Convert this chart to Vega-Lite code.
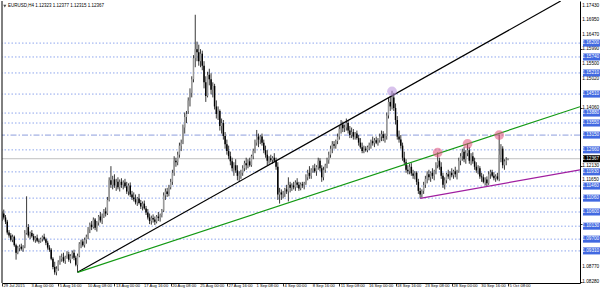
{
"$schema":"https://vega.github.io/schema/vega-lite/v6.json",
"width":578,"height":282,
"autosize":{"type":"none"},
"padding":{"left":2,"top":1,"right":20,"bottom":9},
"background":"#ffffff",
"config":{"view":{"stroke":null},"axis":{"grid":false,"labels":false},"text":{"font":"Liberation Sans"}},
"datasets":{
"bars":[
{"i":0,"o":1.1040,"h":1.1062,"l":1.1030,"c":1.1055},
{"i":1,"o":1.1055,"h":1.1068,"l":1.1035,"c":1.1042},
{"i":2,"o":1.1042,"h":1.1050,"l":1.1020,"c":1.1028},
{"i":3,"o":1.1028,"h":1.1034,"l":1.0985,"c":1.0992},
{"i":4,"o":1.0992,"h":1.1000,"l":1.0975,"c":1.0982},
{"i":5,"o":1.0982,"h":1.0990,"l":1.0962,"c":1.0968},
{"i":6,"o":1.0968,"h":1.0985,"l":1.0960,"c":1.0978},
{"i":7,"o":1.0978,"h":1.0982,"l":1.0945,"c":1.0950},
{"i":8,"o":1.0950,"h":1.0955,"l":1.0902,"c":1.0925},
{"i":9,"o":1.0925,"h":1.0948,"l":1.0920,"c":1.0940},
{"i":10,"o":1.0940,"h":1.0952,"l":1.0930,"c":1.0945},
{"i":11,"o":1.0945,"h":1.0955,"l":1.0932,"c":1.0938},
{"i":12,"o":1.0938,"h":1.0950,"l":1.0928,"c":1.0946},
{"i":13,"o":1.0946,"h":1.1000,"l":1.0940,"c":1.0990},
{"i":14,"o":1.0990,"h":1.1112,"l":1.0985,"c":1.1010},
{"i":15,"o":1.1010,"h":1.1020,"l":1.0975,"c":1.0982},
{"i":16,"o":1.0982,"h":1.0995,"l":1.0970,"c":1.0990},
{"i":17,"o":1.0990,"h":1.1000,"l":1.0975,"c":1.0980},
{"i":18,"o":1.0980,"h":1.0988,"l":1.0962,"c":1.0968},
{"i":19,"o":1.0968,"h":1.0980,"l":1.0958,"c":1.0975},
{"i":20,"o":1.0975,"h":1.0985,"l":1.0960,"c":1.0965},
{"i":21,"o":1.0965,"h":1.0972,"l":1.0955,"c":1.0962},
{"i":22,"o":1.0962,"h":1.0975,"l":1.0958,"c":1.0970},
{"i":23,"o":1.0970,"h":1.0982,"l":1.0962,"c":1.0978},
{"i":24,"o":1.0978,"h":1.0988,"l":1.0965,"c":1.0970},
{"i":25,"o":1.0970,"h":1.0975,"l":1.0950,"c":1.0958},
{"i":26,"o":1.0958,"h":1.0965,"l":1.0935,"c":1.0942},
{"i":27,"o":1.0942,"h":1.0950,"l":1.0928,"c":1.0935},
{"i":28,"o":1.0935,"h":1.0940,"l":1.0900,"c":1.0905},
{"i":29,"o":1.0905,"h":1.0910,"l":1.0870,"c":1.0878},
{"i":30,"o":1.0878,"h":1.0895,"l":1.0852,"c":1.0860},
{"i":31,"o":1.0860,"h":1.0880,"l":1.0850,"c":1.0872},
{"i":32,"o":1.0872,"h":1.0900,"l":1.0865,"c":1.0895},
{"i":33,"o":1.0895,"h":1.0915,"l":1.0885,"c":1.0905},
{"i":34,"o":1.0905,"h":1.0922,"l":1.0895,"c":1.0910},
{"i":35,"o":1.0910,"h":1.0925,"l":1.0892,"c":1.0898},
{"i":36,"o":1.0898,"h":1.0915,"l":1.0888,"c":1.0912},
{"i":37,"o":1.0912,"h":1.0930,"l":1.0905,"c":1.0920},
{"i":38,"o":1.0920,"h":1.0928,"l":1.0895,"c":1.0902},
{"i":39,"o":1.0902,"h":1.0920,"l":1.0890,"c":1.0915},
{"i":40,"o":1.0915,"h":1.0932,"l":1.0905,"c":1.0925},
{"i":41,"o":1.0925,"h":1.0935,"l":1.0900,"c":1.0908},
{"i":42,"o":1.0908,"h":1.0915,"l":1.0880,"c":1.0885},
{"i":43,"o":1.0885,"h":1.0922,"l":1.0860,"c":1.0915},
{"i":44,"o":1.0915,"h":1.0960,"l":1.0910,"c":1.0955},
{"i":45,"o":1.0955,"h":1.0968,"l":1.0940,"c":1.0962},
{"i":46,"o":1.0962,"h":1.0970,"l":1.0945,"c":1.0950},
{"i":47,"o":1.0950,"h":1.0975,"l":1.0942,"c":1.0968},
{"i":48,"o":1.0968,"h":1.0985,"l":1.0955,"c":1.0978},
{"i":49,"o":1.0978,"h":1.1010,"l":1.0970,"c":1.1002},
{"i":50,"o":1.1002,"h":1.1025,"l":1.0990,"c":1.1018},
{"i":51,"o":1.1018,"h":1.1030,"l":1.1000,"c":1.1010},
{"i":52,"o":1.1010,"h":1.1042,"l":1.1005,"c":1.1035},
{"i":53,"o":1.1035,"h":1.1040,"l":1.1000,"c":1.1008},
{"i":54,"o":1.1008,"h":1.1030,"l":1.0995,"c":1.1025},
{"i":55,"o":1.1025,"h":1.1050,"l":1.1015,"c":1.1045},
{"i":56,"o":1.1045,"h":1.1060,"l":1.1025,"c":1.1032},
{"i":57,"o":1.1032,"h":1.1055,"l":1.1020,"c":1.1048},
{"i":58,"o":1.1048,"h":1.1070,"l":1.1040,"c":1.1062},
{"i":59,"o":1.1062,"h":1.1075,"l":1.1045,"c":1.1055},
{"i":60,"o":1.1055,"h":1.1110,"l":1.1050,"c":1.1100},
{"i":61,"o":1.1100,"h":1.1175,"l":1.1095,"c":1.1165},
{"i":62,"o":1.1165,"h":1.1212,"l":1.1140,"c":1.1150},
{"i":63,"o":1.1150,"h":1.1180,"l":1.1135,"c":1.1168},
{"i":64,"o":1.1168,"h":1.1185,"l":1.1140,"c":1.1148},
{"i":65,"o":1.1148,"h":1.1170,"l":1.1130,"c":1.1160},
{"i":66,"o":1.1160,"h":1.1175,"l":1.1135,"c":1.1142},
{"i":67,"o":1.1142,"h":1.1168,"l":1.1128,"c":1.1160},
{"i":68,"o":1.1160,"h":1.1172,"l":1.1140,"c":1.1150},
{"i":69,"o":1.1150,"h":1.1165,"l":1.1135,"c":1.1158},
{"i":70,"o":1.1158,"h":1.1170,"l":1.1140,"c":1.1145},
{"i":71,"o":1.1145,"h":1.1160,"l":1.1120,"c":1.1128},
{"i":72,"o":1.1128,"h":1.1155,"l":1.1115,"c":1.1148},
{"i":73,"o":1.1148,"h":1.1158,"l":1.1110,"c":1.1118},
{"i":74,"o":1.1118,"h":1.1130,"l":1.1100,"c":1.1108},
{"i":75,"o":1.1108,"h":1.1125,"l":1.1095,"c":1.1102},
{"i":76,"o":1.1102,"h":1.1118,"l":1.1085,"c":1.1092},
{"i":77,"o":1.1092,"h":1.1110,"l":1.1080,"c":1.1105},
{"i":78,"o":1.1105,"h":1.1120,"l":1.1085,"c":1.1090},
{"i":79,"o":1.1090,"h":1.1100,"l":1.1070,"c":1.1078},
{"i":80,"o":1.1078,"h":1.1095,"l":1.1065,"c":1.1088},
{"i":81,"o":1.1088,"h":1.1098,"l":1.1068,"c":1.1072},
{"i":82,"o":1.1072,"h":1.1080,"l":1.1050,"c":1.1058},
{"i":83,"o":1.1058,"h":1.1070,"l":1.1035,"c":1.1042},
{"i":84,"o":1.1042,"h":1.1055,"l":1.1020,"c":1.1030},
{"i":85,"o":1.1030,"h":1.1048,"l":1.1018,"c":1.1040},
{"i":86,"o":1.1040,"h":1.1052,"l":1.1025,"c":1.1035},
{"i":87,"o":1.1035,"h":1.1045,"l":1.1017,"c":1.1028},
{"i":88,"o":1.1028,"h":1.1050,"l":1.1022,"c":1.1045},
{"i":89,"o":1.1045,"h":1.1060,"l":1.1030,"c":1.1040},
{"i":90,"o":1.1040,"h":1.1055,"l":1.1028,"c":1.1050},
{"i":91,"o":1.1050,"h":1.1070,"l":1.1042,"c":1.1065},
{"i":92,"o":1.1065,"h":1.1125,"l":1.1060,"c":1.1115},
{"i":93,"o":1.1115,"h":1.1138,"l":1.1100,"c":1.1128},
{"i":94,"o":1.1128,"h":1.1140,"l":1.1110,"c":1.1120},
{"i":95,"o":1.1120,"h":1.1150,"l":1.1112,"c":1.1142},
{"i":96,"o":1.1142,"h":1.1170,"l":1.1135,"c":1.1160},
{"i":97,"o":1.1160,"h":1.1200,"l":1.1150,"c":1.1190},
{"i":98,"o":1.1190,"h":1.1245,"l":1.1180,"c":1.1230},
{"i":99,"o":1.1230,"h":1.1240,"l":1.1210,"c":1.1225},
{"i":100,"o":1.1225,"h":1.1260,"l":1.1215,"c":1.1250},
{"i":101,"o":1.1250,"h":1.1290,"l":1.1240,"c":1.1280},
{"i":102,"o":1.1280,"h":1.1300,"l":1.1262,"c":1.1290},
{"i":103,"o":1.1290,"h":1.1350,"l":1.1285,"c":1.1340},
{"i":104,"o":1.1340,"h":1.1390,"l":1.1320,"c":1.1375},
{"i":105,"o":1.1375,"h":1.1395,"l":1.1355,"c":1.1385},
{"i":106,"o":1.1395,"h":1.1440,"l":1.1385,"c":1.1430},
{"i":107,"o":1.1430,"h":1.1470,"l":1.1410,"c":1.1455},
{"i":108,"o":1.1455,"h":1.1510,"l":1.1440,"c":1.1500},
{"i":109,"o":1.1500,"h":1.1580,"l":1.1490,"c":1.1570},
{"i":110,"o":1.1570,"h":1.1714,"l":1.1540,"c":1.1600},
{"i":111,"o":1.1600,"h":1.1625,"l":1.1560,"c":1.1590},
{"i":112,"o":1.1590,"h":1.1615,"l":1.1545,"c":1.1560},
{"i":113,"o":1.1560,"h":1.1600,"l":1.1540,"c":1.1585},
{"i":114,"o":1.1585,"h":1.1595,"l":1.1530,"c":1.1545},
{"i":115,"o":1.1545,"h":1.1560,"l":1.1470,"c":1.1490},
{"i":116,"o":1.1490,"h":1.1510,"l":1.1425,"c":1.1445},
{"i":117,"o":1.1445,"h":1.1525,"l":1.1440,"c":1.1515},
{"i":118,"o":1.1515,"h":1.1535,"l":1.1480,"c":1.1500},
{"i":119,"o":1.1500,"h":1.1520,"l":1.1450,"c":1.1465},
{"i":120,"o":1.1465,"h":1.1490,"l":1.1440,"c":1.1478},
{"i":121,"o":1.1478,"h":1.1485,"l":1.1400,"c":1.1410},
{"i":122,"o":1.1410,"h":1.1430,"l":1.1370,"c":1.1385},
{"i":123,"o":1.1385,"h":1.1410,"l":1.1365,"c":1.1395},
{"i":124,"o":1.1395,"h":1.1400,"l":1.1330,"c":1.1345},
{"i":125,"o":1.1345,"h":1.1370,"l":1.1320,"c":1.1355},
{"i":126,"o":1.1355,"h":1.1365,"l":1.1300,"c":1.1312},
{"i":127,"o":1.1312,"h":1.1325,"l":1.1270,"c":1.1285},
{"i":128,"o":1.1285,"h":1.1300,"l":1.1250,"c":1.1262},
{"i":129,"o":1.1262,"h":1.1280,"l":1.1235,"c":1.1245},
{"i":130,"o":1.1245,"h":1.1260,"l":1.1215,"c":1.1228},
{"i":131,"o":1.1228,"h":1.1240,"l":1.1195,"c":1.1205},
{"i":132,"o":1.1205,"h":1.1225,"l":1.1180,"c":1.1215},
{"i":133,"o":1.1215,"h":1.1235,"l":1.1190,"c":1.1198},
{"i":134,"o":1.1198,"h":1.1215,"l":1.1165,"c":1.1180},
{"i":135,"o":1.1180,"h":1.1195,"l":1.1160,"c":1.1185},
{"i":136,"o":1.1185,"h":1.1200,"l":1.1170,"c":1.1190},
{"i":137,"o":1.1190,"h":1.1215,"l":1.1180,"c":1.1205},
{"i":138,"o":1.1205,"h":1.1230,"l":1.1195,"c":1.1222},
{"i":139,"o":1.1222,"h":1.1240,"l":1.1200,"c":1.1215},
{"i":140,"o":1.1215,"h":1.1235,"l":1.1205,"c":1.1228},
{"i":141,"o":1.1228,"h":1.1240,"l":1.1210,"c":1.1215},
{"i":142,"o":1.1215,"h":1.1250,"l":1.1210,"c":1.1245},
{"i":143,"o":1.1245,"h":1.1270,"l":1.1235,"c":1.1262},
{"i":144,"o":1.1262,"h":1.1300,"l":1.1255,"c":1.1290},
{"i":145,"o":1.1290,"h":1.1332,"l":1.1280,"c":1.1310},
{"i":146,"o":1.1310,"h":1.1320,"l":1.1275,"c":1.1300},
{"i":147,"o":1.1300,"h":1.1315,"l":1.1285,"c":1.1310},
{"i":148,"o":1.1310,"h":1.1320,"l":1.1280,"c":1.1290},
{"i":149,"o":1.1290,"h":1.1300,"l":1.1255,"c":1.1265},
{"i":150,"o":1.1265,"h":1.1280,"l":1.1240,"c":1.1250},
{"i":151,"o":1.1250,"h":1.1265,"l":1.1215,"c":1.1230},
{"i":152,"o":1.1230,"h":1.1245,"l":1.1220,"c":1.1238},
{"i":153,"o":1.1238,"h":1.1250,"l":1.1225,"c":1.1232},
{"i":154,"o":1.1232,"h":1.1245,"l":1.1220,"c":1.1240},
{"i":155,"o":1.1240,"h":1.1255,"l":1.1225,"c":1.1230},
{"i":156,"o":1.1230,"h":1.1240,"l":1.1200,"c":1.1210},
{"i":157,"o":1.1210,"h":1.1225,"l":1.1100,"c":1.1118},
{"i":158,"o":1.1118,"h":1.1140,"l":1.1088,"c":1.1125},
{"i":159,"o":1.1125,"h":1.1135,"l":1.1100,"c":1.1118},
{"i":160,"o":1.1118,"h":1.1130,"l":1.1105,"c":1.1122},
{"i":161,"o":1.1122,"h":1.1140,"l":1.1110,"c":1.1135},
{"i":162,"o":1.1135,"h":1.1150,"l":1.1120,"c":1.1128},
{"i":163,"o":1.1128,"h":1.1175,"l":1.1095,"c":1.1150},
{"i":164,"o":1.1150,"h":1.1160,"l":1.1125,"c":1.1140},
{"i":165,"o":1.1140,"h":1.1155,"l":1.1130,"c":1.1148},
{"i":166,"o":1.1148,"h":1.1160,"l":1.1135,"c":1.1142},
{"i":167,"o":1.1142,"h":1.1165,"l":1.1130,"c":1.1158},
{"i":168,"o":1.1158,"h":1.1172,"l":1.1140,"c":1.1150},
{"i":169,"o":1.1150,"h":1.1160,"l":1.1130,"c":1.1138},
{"i":170,"o":1.1138,"h":1.1158,"l":1.1132,"c":1.1152},
{"i":171,"o":1.1152,"h":1.1160,"l":1.1140,"c":1.1148},
{"i":172,"o":1.1148,"h":1.1160,"l":1.1135,"c":1.1155},
{"i":173,"o":1.1155,"h":1.1185,"l":1.1150,"c":1.1175},
{"i":174,"o":1.1175,"h":1.1200,"l":1.1165,"c":1.1190},
{"i":175,"o":1.1190,"h":1.1212,"l":1.1170,"c":1.1180},
{"i":176,"o":1.1180,"h":1.1205,"l":1.1170,"c":1.1200},
{"i":177,"o":1.1200,"h":1.1215,"l":1.1190,"c":1.1205},
{"i":178,"o":1.1205,"h":1.1220,"l":1.1190,"c":1.1195},
{"i":179,"o":1.1195,"h":1.1215,"l":1.1180,"c":1.1210},
{"i":180,"o":1.1210,"h":1.1240,"l":1.1200,"c":1.1230},
{"i":181,"o":1.1230,"h":1.1238,"l":1.1195,"c":1.1205},
{"i":182,"o":1.1205,"h":1.1215,"l":1.1160,"c":1.1175},
{"i":183,"o":1.1175,"h":1.1210,"l":1.1165,"c":1.1200},
{"i":184,"o":1.1200,"h":1.1220,"l":1.1190,"c":1.1215},
{"i":185,"o":1.1215,"h":1.1240,"l":1.1205,"c":1.1232},
{"i":186,"o":1.1232,"h":1.1260,"l":1.1220,"c":1.1250},
{"i":187,"o":1.1250,"h":1.1280,"l":1.1240,"c":1.1270},
{"i":188,"o":1.1270,"h":1.1295,"l":1.1255,"c":1.1285},
{"i":189,"o":1.1285,"h":1.1295,"l":1.1270,"c":1.1280},
{"i":190,"o":1.1280,"h":1.1300,"l":1.1270,"c":1.1295},
{"i":191,"o":1.1295,"h":1.1320,"l":1.1285,"c":1.1310},
{"i":192,"o":1.1310,"h":1.1345,"l":1.1300,"c":1.1335},
{"i":193,"o":1.1335,"h":1.1365,"l":1.1320,"c":1.1350},
{"i":194,"o":1.1350,"h":1.1360,"l":1.1325,"c":1.1338},
{"i":195,"o":1.1338,"h":1.1350,"l":1.1325,"c":1.1340},
{"i":196,"o":1.1340,"h":1.1370,"l":1.1330,"c":1.1355},
{"i":197,"o":1.1355,"h":1.1365,"l":1.1320,"c":1.1330},
{"i":198,"o":1.1330,"h":1.1345,"l":1.1305,"c":1.1315},
{"i":199,"o":1.1315,"h":1.1340,"l":1.1305,"c":1.1325},
{"i":200,"o":1.1325,"h":1.1335,"l":1.1300,"c":1.1310},
{"i":201,"o":1.1310,"h":1.1325,"l":1.1300,"c":1.1320},
{"i":202,"o":1.1320,"h":1.1330,"l":1.1300,"c":1.1305},
{"i":203,"o":1.1305,"h":1.1315,"l":1.1280,"c":1.1290},
{"i":204,"o":1.1290,"h":1.1305,"l":1.1270,"c":1.1275},
{"i":205,"o":1.1275,"h":1.1290,"l":1.1255,"c":1.1262},
{"i":206,"o":1.1262,"h":1.1280,"l":1.1255,"c":1.1270},
{"i":207,"o":1.1270,"h":1.1278,"l":1.1260,"c":1.1265},
{"i":208,"o":1.1265,"h":1.1280,"l":1.1258,"c":1.1275},
{"i":209,"o":1.1275,"h":1.1290,"l":1.1265,"c":1.1282},
{"i":210,"o":1.1282,"h":1.1300,"l":1.1270,"c":1.1295},
{"i":211,"o":1.1295,"h":1.1310,"l":1.1280,"c":1.1288},
{"i":212,"o":1.1288,"h":1.1305,"l":1.1275,"c":1.1298},
{"i":213,"o":1.1298,"h":1.1310,"l":1.1285,"c":1.1290},
{"i":214,"o":1.1290,"h":1.1305,"l":1.1280,"c":1.1298},
{"i":215,"o":1.1298,"h":1.1320,"l":1.1290,"c":1.1310},
{"i":216,"o":1.1310,"h":1.1330,"l":1.1295,"c":1.1318},
{"i":217,"o":1.1318,"h":1.1328,"l":1.1295,"c":1.1305},
{"i":218,"o":1.1305,"h":1.1320,"l":1.1290,"c":1.1312},
{"i":219,"o":1.1312,"h":1.1390,"l":1.1300,"c":1.1380},
{"i":220,"o":1.1380,"h":1.1440,"l":1.1370,"c":1.1425},
{"i":221,"o":1.1425,"h":1.1445,"l":1.1395,"c":1.1410},
{"i":222,"o":1.1410,"h":1.1462,"l":1.1400,"c":1.1440},
{"i":223,"o":1.1440,"h":1.1455,"l":1.1395,"c":1.1405},
{"i":224,"o":1.1405,"h":1.1420,"l":1.1350,"c":1.1365},
{"i":225,"o":1.1365,"h":1.1378,"l":1.1300,"c":1.1310},
{"i":226,"o":1.1310,"h":1.1330,"l":1.1290,"c":1.1300},
{"i":227,"o":1.1300,"h":1.1315,"l":1.1270,"c":1.1280},
{"i":228,"o":1.1280,"h":1.1290,"l":1.1230,"c":1.1240},
{"i":229,"o":1.1240,"h":1.1260,"l":1.1215,"c":1.1225},
{"i":230,"o":1.1225,"h":1.1235,"l":1.1190,"c":1.1200},
{"i":231,"o":1.1200,"h":1.1215,"l":1.1185,"c":1.1195},
{"i":232,"o":1.1195,"h":1.1220,"l":1.1185,"c":1.1210},
{"i":233,"o":1.1210,"h":1.1222,"l":1.1180,"c":1.1188},
{"i":234,"o":1.1188,"h":1.1200,"l":1.1170,"c":1.1180},
{"i":235,"o":1.1180,"h":1.1195,"l":1.1168,"c":1.1190},
{"i":236,"o":1.1190,"h":1.1195,"l":1.1150,"c":1.1160},
{"i":237,"o":1.1160,"h":1.1170,"l":1.1120,"c":1.1130},
{"i":238,"o":1.1130,"h":1.1140,"l":1.1105,"c":1.1118},
{"i":239,"o":1.1118,"h":1.1135,"l":1.1108,"c":1.1130},
{"i":240,"o":1.1130,"h":1.1160,"l":1.1120,"c":1.1150},
{"i":241,"o":1.1150,"h":1.1180,"l":1.1140,"c":1.1170},
{"i":242,"o":1.1170,"h":1.1195,"l":1.1155,"c":1.1185},
{"i":243,"o":1.1185,"h":1.1200,"l":1.1165,"c":1.1175},
{"i":244,"o":1.1175,"h":1.1195,"l":1.1160,"c":1.1190},
{"i":245,"o":1.1190,"h":1.1205,"l":1.1170,"c":1.1180},
{"i":246,"o":1.1180,"h":1.1200,"l":1.1165,"c":1.1195},
{"i":247,"o":1.1195,"h":1.1225,"l":1.1185,"c":1.1215},
{"i":248,"o":1.1215,"h":1.1258,"l":1.1205,"c":1.1230},
{"i":249,"o":1.1230,"h":1.1240,"l":1.1200,"c":1.1210},
{"i":250,"o":1.1210,"h":1.1225,"l":1.1170,"c":1.1180},
{"i":251,"o":1.1180,"h":1.1190,"l":1.1140,"c":1.1150},
{"i":252,"o":1.1150,"h":1.1175,"l":1.1135,"c":1.1165},
{"i":253,"o":1.1165,"h":1.1190,"l":1.1155,"c":1.1185},
{"i":254,"o":1.1185,"h":1.1200,"l":1.1170,"c":1.1178},
{"i":255,"o":1.1178,"h":1.1195,"l":1.1165,"c":1.1190},
{"i":256,"o":1.1190,"h":1.1205,"l":1.1175,"c":1.1182},
{"i":257,"o":1.1182,"h":1.1200,"l":1.1170,"c":1.1195},
{"i":258,"o":1.1195,"h":1.1210,"l":1.1175,"c":1.1185},
{"i":259,"o":1.1185,"h":1.1200,"l":1.1168,"c":1.1195},
{"i":260,"o":1.1195,"h":1.1240,"l":1.1190,"c":1.1230},
{"i":261,"o":1.1230,"h":1.1255,"l":1.1215,"c":1.1245},
{"i":262,"o":1.1245,"h":1.1270,"l":1.1230,"c":1.1260},
{"i":263,"o":1.1260,"h":1.1275,"l":1.1225,"c":1.1235},
{"i":264,"o":1.1235,"h":1.1265,"l":1.1220,"c":1.1255},
{"i":265,"o":1.1255,"h":1.1287,"l":1.1245,"c":1.1265},
{"i":266,"o":1.1265,"h":1.1275,"l":1.1220,"c":1.1230},
{"i":267,"o":1.1230,"h":1.1255,"l":1.1215,"c":1.1245},
{"i":268,"o":1.1245,"h":1.1258,"l":1.1220,"c":1.1228},
{"i":269,"o":1.1228,"h":1.1240,"l":1.1200,"c":1.1210},
{"i":270,"o":1.1210,"h":1.1225,"l":1.1190,"c":1.1198},
{"i":271,"o":1.1198,"h":1.1215,"l":1.1185,"c":1.1205},
{"i":272,"o":1.1205,"h":1.1212,"l":1.1170,"c":1.1178},
{"i":273,"o":1.1178,"h":1.1190,"l":1.1160,"c":1.1175},
{"i":274,"o":1.1175,"h":1.1185,"l":1.1155,"c":1.1160},
{"i":275,"o":1.1160,"h":1.1175,"l":1.1148,"c":1.1168},
{"i":276,"o":1.1168,"h":1.1178,"l":1.1145,"c":1.1155},
{"i":277,"o":1.1155,"h":1.1195,"l":1.1150,"c":1.1185},
{"i":278,"o":1.1185,"h":1.1200,"l":1.1170,"c":1.1192},
{"i":279,"o":1.1192,"h":1.1200,"l":1.1175,"c":1.1180},
{"i":280,"o":1.1180,"h":1.1192,"l":1.1165,"c":1.1172},
{"i":281,"o":1.1172,"h":1.1185,"l":1.1160,"c":1.1178},
{"i":282,"o":1.1178,"h":1.1190,"l":1.1165,"c":1.1170},
{"i":283,"o":1.1170,"h":1.1317,"l":1.1162,"c":1.1250},
{"i":284,"o":1.1250,"h":1.1285,"l":1.1225,"c":1.1270},
{"i":285,"o":1.1270,"h":1.1278,"l":1.1205,"c":1.1215},
{"i":286,"o":1.1215,"h":1.1235,"l":1.1200,"c":1.1228},
{"i":287,"o":1.1228,"h":1.1242,"l":1.1215,"c":1.1232},
{"i":288,"o":1.12323,"h":1.12377,"l":1.12315,"c":1.12367}
],
"levels":[
{"p":1.16200,"k":"lvl"},{"p":1.15740,"k":"lvl"},{"p":1.15210,"k":"lvl"},{"p":1.14510,"k":"lvl"},
{"p":1.13880,"k":"lvl"},{"p":1.13550,"k":"lvl"},{"p":1.13150,"k":"dd"},{"p":1.12660,"k":"lvl"},
{"p":1.12367,"k":"cur"},{"p":1.11930,"k":"lvl"},{"p":1.11460,"k":"lvl"},{"p":1.11060,"k":"lvl"},
{"p":1.10600,"k":"lvl"},{"p":1.10130,"k":"lvl"},{"p":1.09700,"k":"lvl"},{"p":1.09310,"k":"lvl"}
],
"trend":[
{"n":"black","i":43,"p":1.0860},{"n":"black","i":318,"p":1.17596},
{"n":"green","i":43,"p":1.0860},{"n":"green","i":329,"p":1.1409},
{"n":"purple","i":238,"p":1.1105},{"n":"purple","i":329,"p":1.1200}
],
"marks":[
{"i":222,"p":1.1460,"k":"v"},{"i":248,"p":1.1257,"k":"p"},{"i":265,"p":1.1286,"k":"p"},{"i":283,"p":1.1315,"k":"p"}
],
"xlabels":[
{"i":0,"t":"29 Jul 2015"},{"i":16,"t":"3 Aug 00:00"},{"i":32,"t":"5 Aug 16:00"},{"i":48,"t":"10 Aug 08:00"},
{"i":64,"t":"13 Aug 00:00"},{"i":80,"t":"17 Aug 16:00"},{"i":96,"t":"20 Aug 08:00"},{"i":112,"t":"25 Aug 00:00"},
{"i":128,"t":"27 Aug 16:00"},{"i":144,"t":"1 Sep 08:00"},{"i":160,"t":"4 Sep 00:00"},{"i":176,"t":"8 Sep 16:00"},
{"i":192,"t":"11 Sep 08:00"},{"i":208,"t":"16 Sep 00:00"},{"i":224,"t":"18 Sep 16:00"},{"i":240,"t":"23 Sep 08:00"},
{"i":256,"t":"28 Sep 00:00"},{"i":272,"t":"30 Sep 16:00"},{"i":288,"t":"5 Oct 08:00"}
],
"ylabels":[
{"p":1.0828},{"p":1.0877},{"p":1.1165},{"p":1.1213},
{"p":1.1406},{"p":1.1502},{"p":1.1550},{"p":1.1599},{"p":1.1647},{"p":1.1695},{"p":1.1743}
],
"one":[{"z":0}]
},
"layer":[
{"data":{"name":"levels"},"transform":[{"filter":"datum.k=='lvl'"}],
 "mark":{"type":"rule","color":"#4169e1","strokeWidth":0.8,"strokeDash":[1.5,2],"opacity":0.75},
 "encoding":{"y":{"field":"p","type":"quantitative","title":null,"scale":{"domain":[1.08246,1.17596],"nice":false,"zero":false},
   "axis":{"title":null,"orient":"right","values":[1.0828,1.0877,1.0924,1.0972,1.1021,1.1069,1.1117,1.1165,1.1213,1.1261,1.131,1.1358,1.1406,1.1454,1.1502,1.155,1.1599,1.1647,1.1695,1.1743],
    "labels":false,"tickSize":2,"tickColor":"#000000","tickWidth":0.8,"domainColor":"#000000","domainWidth":1}}}},
{"data":{"name":"levels"},"transform":[{"filter":"datum.k=='dd'"}],
 "mark":{"type":"rule","color":"#6f84d6","strokeWidth":0.8,"strokeDash":[6,2,1.5,2]},
 "encoding":{"y":{"field":"p","type":"quantitative","title":null}}},
{"data":{"name":"levels"},"transform":[{"filter":"datum.k=='cur'"}],
 "mark":{"type":"rule","color":"#c0c0c0","strokeWidth":1},
 "encoding":{"y":{"field":"p","type":"quantitative","title":null}}},
{"data":{"name":"bars"},
 "mark":{"type":"rule","color":"#222222","strokeWidth":0.9,"clip":true},
 "encoding":{
  "x":{"field":"i","type":"quantitative","title":null,"scale":{"domain":[0,329],"nice":false,"zero":false},
   "axis":{"title":null,"orient":"bottom","values":[0,16,32,48,64,80,96,112,128,144,160,176,192,208,224,240,256,272,288],
    "labels":false,"tickSize":3,"tickColor":"#000000","tickWidth":0.8,"domainColor":"#000000","domainWidth":1}},
  "y":{"field":"l","type":"quantitative","title":null},
  "y2":{"field":"h"}}},
{"data":{"name":"bars"},
 "mark":{"type":"rule","strokeWidth":1.5,"clip":true},
 "encoding":{
  "x":{"field":"i","type":"quantitative","title":null},
  "y":{"field":"o","type":"quantitative","title":null},
  "y2":{"field":"c"},
  "color":{"condition":{"test":"datum.c >= datum.o","value":"#9a9a9a"},"value":"#000000"}}},
{"data":{"name":"trend"},
 "mark":{"type":"line","strokeWidth":1.2,"clip":true},
 "encoding":{
  "x":{"field":"i","type":"quantitative","title":null},
  "y":{"field":"p","type":"quantitative","title":null},
  "detail":{"field":"n","type":"nominal"},
  "color":{"condition":[{"test":"datum.n=='green'","value":"#139913"},{"test":"datum.n=='purple'","value":"#a01ea0"}],"value":"#000000"}}},
{"data":{"name":"marks"},
 "mark":{"type":"point","filled":true,"size":95,"opacity":0.55,"clip":true},
 "encoding":{
  "x":{"field":"i","type":"quantitative","title":null},
  "y":{"field":"p","type":"quantitative","title":null},
  "color":{"condition":{"test":"datum.k=='v'","value":"#b890dc"},"value":"#e0507a"}}},
{"data":{"name":"one"},
 "mark":{"type":"rule","color":"#000000","strokeWidth":1},
 "encoding":{"x":{"datum":0,"type":"quantitative","title":null}}},
{"data":{"name":"xlabels"},
 "mark":{"type":"text","align":"left","baseline":"middle","fontSize":4.1,"color":"#000000","dx":1.5,"clip":false},
 "encoding":{
  "x":{"field":"i","type":"quantitative","title":null},
  "y":{"datum":1.0813,"type":"quantitative","title":null},
  "text":{"field":"t","type":"nominal"}}},
{"data":{"name":"ylabels"},
 "mark":{"type":"text","align":"left","baseline":"middle","fontSize":4.7,"color":"#000000","clip":false},
 "encoding":{
  "x":{"datum":330.3,"type":"quantitative","title":null},
  "y":{"field":"p","type":"quantitative","title":null},
  "text":{"field":"p","type":"quantitative","format":".5f"}}},
{"data":{"name":"levels"},
 "mark":{"type":"point","filled":true,"opacity":1,"size":361,"shape":"M-1,-0.37L1,-0.37L1,0.37L-1,0.37Z","clip":false},
 "encoding":{
  "x":{"datum":336.1,"type":"quantitative","title":null},
  "y":{"field":"p","type":"quantitative","title":null},
  "color":{"condition":{"test":"datum.k=='cur'","value":"#000000"},"value":"#4169e1"}}},
{"data":{"name":"levels"},
 "mark":{"type":"text","align":"left","baseline":"middle","fontSize":4.7,"color":"#ffffff","clip":false},
 "encoding":{
  "x":{"datum":330.3,"type":"quantitative","title":null},
  "y":{"field":"p","type":"quantitative","title":null},
  "text":{"field":"p","type":"quantitative","format":".5f"}}},
{"data":{"name":"one"},
 "mark":{"type":"point","shape":"triangle-down","filled":true,"size":10,"color":"#000000"},
 "encoding":{"x":{"datum":1.6,"type":"quantitative","title":null},"y":{"datum":1.1743,"type":"quantitative","title":null}}},
{"data":{"name":"one"},
 "mark":{"type":"text","align":"left","baseline":"middle","fontSize":4.5,"color":"#000000"},
 "encoding":{"x":{"datum":3.4,"type":"quantitative","title":null},"y":{"datum":1.1743,"type":"quantitative","title":null},
  "text":{"value":"EURUSD,H4  1.12323 1.12377 1.12315 1.12367"}}}
]
}
